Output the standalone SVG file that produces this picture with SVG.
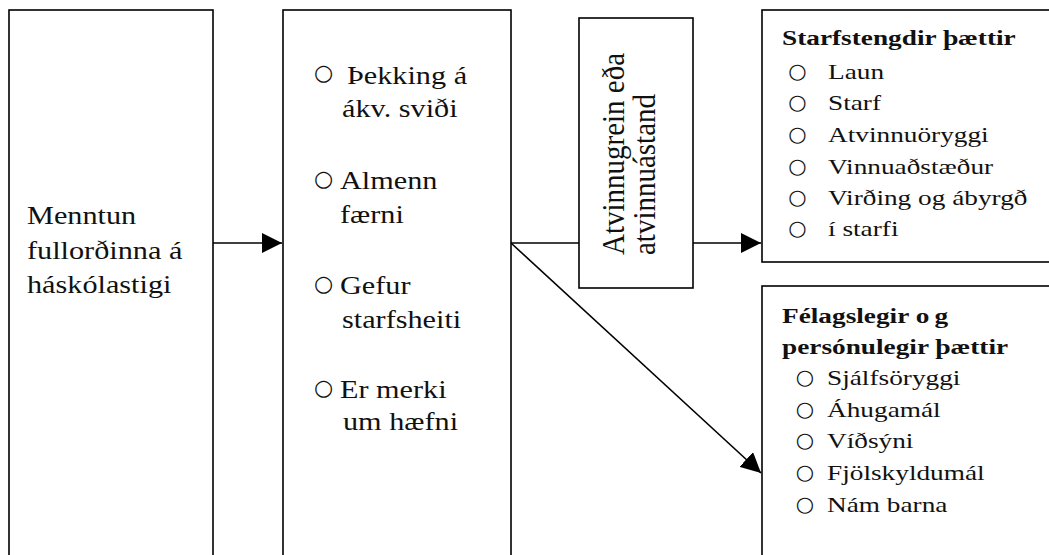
<svg xmlns="http://www.w3.org/2000/svg" width="1049" height="555" viewBox="0 0 1049 555">
<style>
.box{fill:#fff;stroke:#000;stroke-width:1.6}
.con{fill:none;stroke:#000;stroke-width:1.6}
.t{font-family:"Liberation Serif","Times New Roman",serif;font-size:25px;fill:#111}
.r{font-size:21px}
.b{font-weight:bold}
.v{font-family:"Liberation Serif","Times New Roman",serif;font-size:29px;fill:#111}
.bul{font-family:"DejaVu Sans",sans-serif;font-size:22px;fill:#111;text-anchor:middle}
.bul2{font-family:"DejaVu Sans",sans-serif;font-size:21px;fill:#111;text-anchor:middle}
</style>
<defs>
<marker id="ah" markerUnits="userSpaceOnUse" markerWidth="20" markerHeight="20" refX="20" refY="10" orient="auto" viewBox="0 0 20 20">
<path d="M0,0 L20,10 L0,20 Z" fill="#000"/>
</marker>
</defs>
<rect width="1049" height="555" fill="#fff"/>

<g id="connectors">
<line class="con" x1="213" y1="243" x2="282" y2="243" marker-end="url(#ah)"/>
<line class="con" x1="511" y1="243" x2="579" y2="243"/>
<line class="con" x1="693" y1="243" x2="761" y2="243" marker-end="url(#ah)"/>
<line class="con" x1="511" y1="243" x2="761" y2="473" marker-end="url(#ah)"/>
</g>

<g id="node-menntun">
<rect class="box" x="9" y="10" width="204" height="560"/>
<text class="t" transform="translate(27,224) scale(1.21,1)">Menntun</text>
<text class="t" transform="translate(27,259) scale(1.21,1)">fullorðinna á</text>
<text class="t" transform="translate(27,293) scale(1.21,1)">háskólastigi</text>
</g>

<g id="node-gildi">
<rect class="box" x="283" y="10" width="228" height="560"/>
<text class="bul" x="323.5" y="79.7">○</text>
<text class="t" transform="translate(347,84) scale(1.21,1)">Þekking á</text>
<text class="t" transform="translate(342,117) scale(1.21,1)">ákv. sviði</text>
<text class="bul" x="323.5" y="185.7">○</text>
<text class="t" transform="translate(340,189) scale(1.21,1)">Almenn</text>
<text class="t" transform="translate(340,223) scale(1.21,1)">færni</text>
<text class="bul" x="323.5" y="290.7">○</text>
<text class="t" transform="translate(340,294) scale(1.21,1)">Gefur</text>
<text class="t" transform="translate(342,328) scale(1.21,1)">starfsheiti</text>
<text class="bul" x="323.5" y="394.7">○</text>
<text class="t" transform="translate(340,398) scale(1.21,1)">Er merki</text>
<text class="t" transform="translate(343,430) scale(1.21,1)">um hæfni</text>
</g>

<g id="node-atvinnugrein">
<rect class="box" x="579" y="18" width="114" height="270"/>
<text class="v" transform="translate(624,255) rotate(-90) scale(1,1.1)">Atvinnugrein eða</text>
<text class="v" transform="translate(655,255) rotate(-90) scale(1,1.1)">atvinnuástand</text>
</g>

<g id="node-starfstengdir">
<rect class="box" x="762" y="10" width="300" height="252"/>
<text class="t r b" transform="translate(782,45) scale(1.3,1)">Starfstengdir þættir</text>
<text class="bul2" x="797.5" y="78">○</text>
<text class="t r" transform="translate(828,79) scale(1.3,1)">Laun</text>
<text class="bul2" x="797.5" y="108.5">○</text>
<text class="t r" transform="translate(828,110) scale(1.3,1)">Starf</text>
<text class="bul2" x="797.5" y="140.5">○</text>
<text class="t r" transform="translate(828,142) scale(1.3,1)">Atvinnuöryggi</text>
<text class="bul2" x="797.5" y="172.5">○</text>
<text class="t r" transform="translate(828,174) scale(1.3,1)">Vinnuaðstæður</text>
<text class="bul2" x="797.5" y="203.5">○</text>
<text class="t r" transform="translate(828,205) scale(1.3,1)">Virðing og ábyrgð</text>
<text class="bul2" x="797.5" y="234.5">○</text>
<text class="t r" transform="translate(828,236) scale(1.3,1)">í starfi</text>
</g>

<g id="node-felagslegir">
<rect class="box" x="762" y="286" width="300" height="290"/>
<text class="t r b" transform="translate(782,323) scale(1.3,1)">Félagslegir o<tspan dx="4">g</tspan></text>
<text class="t r b" transform="translate(782,354) scale(1.3,1)">persónulegir þættir</text>
<text class="bul2" x="805" y="383.5">○</text>
<text class="t r" transform="translate(827,385) scale(1.3,1)">Sjálfsöryggi</text>
<text class="bul2" x="805" y="415.5">○</text>
<text class="t r" transform="translate(827,417) scale(1.3,1)">Áhugamál</text>
<text class="bul2" x="805" y="446.5">○</text>
<text class="t r" transform="translate(827,448) scale(1.3,1)">Víðsýni</text>
<text class="bul2" x="805" y="478.5">○</text>
<text class="t r" transform="translate(827,480) scale(1.3,1)">Fjölskyldumál</text>
<text class="bul2" x="805" y="510.5">○</text>
<text class="t r" transform="translate(827,512) scale(1.3,1)">Nám barna</text>
</g>
</svg>
